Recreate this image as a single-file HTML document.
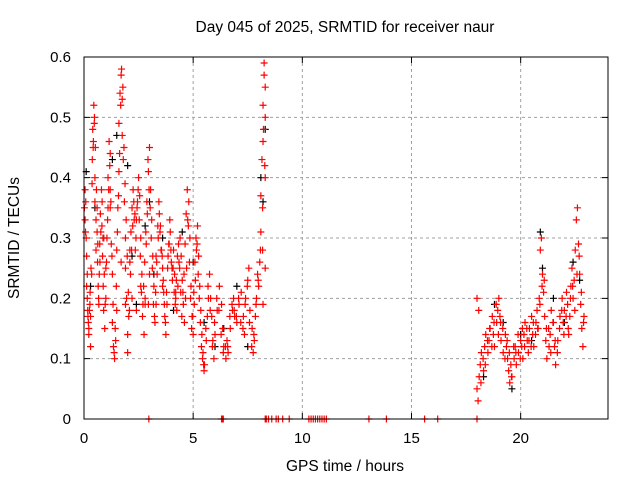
<!DOCTYPE html>
<html><head><meta charset="utf-8"><style>
body{margin:0;background:#fff}
svg{display:block;font-family:"Liberation Sans","DejaVu Sans",sans-serif}
</style></head><body>
<svg id="c" width="640" height="480">
<text x="345" y="32" font-size="15.5" text-anchor="middle">Day 045 of 2025, SRMTID for receiver naur</text>
<text x="0" y="0" font-size="15.5" text-anchor="middle" transform="translate(19,238) rotate(-90)">SRMTID / TECUs</text>
<text x="345" y="471" font-size="15.5" text-anchor="middle">GPS time / hours</text>
</svg>
<script>
const xTicks=[0,5,10,15,20];
const yTicks=[0,0.1,0.2,0.3,0.4,0.5,0.6];
const yTickLabels=["0","0.1","0.2","0.3","0.4","0.5","0.6"];
const redT=[0.05,0.05,0.08,0.1,0.12,0.15,0.15,0.18,0.2,0.22,0.25,0.28,0.3,0.3,0.35,0.38,0.4,0.42,0.45,0.48,0.5,0.5,0.55,0.55,0.6,0.62,0.65,0.68,0.7,0.72,0.75,0.8,0.82,0.85,0.88,0.9,0.95,1.0,1.0,
1.05,1.1,1.1,1.15,1.2,1.2,1.25,1.3,1.3,1.35,1.4,1.45,1.5,1.5,1.55,1.6,1.6,1.65,1.7,1.72,1.75,1.75,1.8,1.85,1.9,1.9,1.95,2.0,2.0,
2.05,2.1,2.15,2.2,2.25,2.3,2.35,2.4,2.45,2.5,2.55,2.6,2.65,2.7,2.75,2.8,2.85,2.9,2.95,3.0,3.05,3.1,3.15,3.2,3.25,3.3,3.35,3.4,3.45,3.5,3.55,3.6,3.65,3.7,3.75,3.8,3.85,3.9,3.95,4.0,4.05,
2.2,2.4,2.6,2.8,3.0,3.3,3.6,3.9,4.2,1.7,1.9,2.1,1.2,0.6,0.9,
4.1,4.15,4.2,4.25,4.3,4.35,4.4,4.45,4.5,4.55,4.6,4.65,4.7,4.75,4.8,4.85,4.9,4.95,5.0,5.05,5.1,5.15,5.2,5.25,5.3,5.35,5.4,5.45,
5.5,5.52,5.6,5.65,5.7,5.75,5.8,5.85,5.9,5.95,6.0,6.1,6.2,6.3,6.35,6.4,6.5,6.55,6.6,
6.7,6.8,6.85,6.9,7.0,7.1,7.2,7.3,7.35,7.4,7.5,7.55,7.6,7.7,7.75,7.8,7.85,7.9,7.95,8.0,8.05,8.1,8.1,8.15,8.2,8.2,8.25,8.25,8.3,8.3,8.3,8.3,8.2,
0.02,0.07,0.12,0.17,0.22,0.27,0.32,0.37,0.43,0.47,0.52,0.57,0.63,0.67,0.73,0.77,0.83,0.87,0.93,0.97,1.03,1.08,1.13,1.18,1.23,1.28,1.33,1.38,1.43,1.48,1.53,1.58,1.63,1.68,1.78,1.83,1.88,1.93,1.98,2.03,2.08,2.13,2.18,2.23,2.28,2.33,2.38,2.43,2.48,2.53,2.58,2.63,2.68,2.73,2.78,2.83,2.88,2.93,2.98,3.03,3.08,3.13,3.18,3.23,3.28,3.33,3.38,3.43,3.48,3.53,3.58,3.63,3.68,3.73,3.78,3.83,3.88,3.93,3.98,4.03,4.08,4.13,4.18,4.23,4.28,4.33,4.38,4.43,4.48,4.53,4.58,4.63,4.68,4.73,4.78,4.83,4.88,4.93,4.98,5.03,5.08,5.13,5.18,5.23,5.28,5.33,5.38,5.43,5.48,5.58,5.68,5.78,5.88,5.98,6.08,6.18,6.28,6.38,6.48,6.58,6.68,6.78,6.88,6.98,7.08,7.18,7.28,7.38,7.48,7.58,7.68,7.78,7.88,7.98,8.08,8.18,8.28,8.22,8.18,
18.0,18.0,18.05,18.1,18.15,18.2,18.3,18.35,18.4,18.5,18.55,18.6,18.7,18.75,18.8,18.9,18.95,19.0,19.05,19.1,19.2,19.3,19.35,19.4,19.45,19.5,19.55,19.6,19.7,19.75,19.8,19.9,20.0,20.05,20.1,20.15,20.2,20.3,20.35,20.4,20.5,20.55,20.6,20.7,20.75,20.8,20.85,20.9,20.95,21.0,21.05,21.1,21.15,21.2,21.3,21.35,21.4,21.5,21.55,21.6,21.7,21.8,21.9,21.95,22.0,22.1,22.15,22.2,22.25,22.3,22.35,22.4,22.45,22.5,22.55,22.6,22.65,22.7,22.75,22.8,22.85,22.9,
18.08,18.18,18.28,18.38,18.48,18.58,18.68,18.78,18.88,18.98,19.08,19.18,19.28,19.38,19.48,19.58,19.68,19.78,19.88,19.98,20.08,20.18,20.28,20.38,20.48,20.58,20.68,20.78,20.88,20.98,21.08,21.18,21.28,21.38,21.48,21.58,21.68,21.78,21.88,21.98,22.08,22.18,22.28,22.38,22.48,22.58,22.68,22.78,22.88,
2.95,2.97,6.3,6.32,6.35,6.38,8.3,8.35,8.45,8.6,8.8,8.9,9.1,9.4,10.3,10.4,10.5,10.6,10.7,10.8,10.9,11.0,11.1,13.05,13.85,15.6,16.2,18.0];
const redV=[0.38,0.33,0.36,0.30,0.27,0.24,0.20,0.17,0.16,0.15,0.18,0.21,0.17,0.12,0.24,0.43,0.48,0.45,0.52,0.50,0.40,0.36,0.33,0.28,0.31,0.26,0.22,0.19,0.24,0.29,0.34,0.38,0.32,0.27,0.22,0.18,0.15,0.20,0.25,
0.30,0.35,0.40,0.46,0.44,0.38,0.29,0.24,0.16,0.12,0.10,0.13,0.18,0.28,0.35,0.41,0.49,0.54,0.57,0.58,0.53,0.47,0.43,0.36,0.30,0.25,0.20,0.14,0.11,
0.17,0.26,0.31,0.35,0.38,0.33,0.28,0.33,0.36,0.40,0.37,0.30,0.24,0.19,0.14,0.20,0.29,0.34,0.41,0.45,0.38,0.33,0.27,0.22,0.16,0.19,0.24,0.30,0.34,0.32,0.28,0.25,0.21,0.17,0.14,0.19,0.27,0.29,0.31,0.26,0.23,
0.20,0.18,0.22,0.19,0.24,0.27,0.22,0.29,0.20,0.26,0.19,0.28,0.35,0.35,0.30,
0.28,0.24,0.21,0.18,0.22,0.26,0.30,0.27,0.23,0.19,0.16,0.20,0.25,0.33,0.36,0.30,0.22,0.17,0.14,0.19,0.23,0.28,0.32,0.27,0.22,0.18,0.14,0.11,
0.08,0.09,0.13,0.17,0.20,0.24,0.20,0.17,0.13,0.10,0.14,0.18,0.22,0.19,0.15,0.12,0.10,0.13,0.11,
0.15,0.18,0.20,0.17,0.16,0.19,0.21,0.17,0.14,0.20,0.23,0.25,0.18,0.15,0.11,0.13,0.17,0.20,0.24,0.22,0.26,0.31,0.37,0.43,0.46,0.52,0.57,0.59,0.55,0.50,0.40,0.25,0.19,
0.35,0.31,0.22,0.18,0.14,0.19,0.25,0.39,0.46,0.49,0.45,0.38,0.29,0.20,0.26,0.31,0.36,0.30,0.24,0.19,0.26,0.33,0.38,0.42,0.36,0.27,0.19,0.11,0.15,0.22,0.31,0.37,0.44,0.52,0.55,0.45,0.39,0.33,0.27,0.21,0.18,0.24,0.28,0.32,0.36,0.34,0.30,0.35,0.38,0.33,0.27,0.21,0.17,0.22,0.26,0.31,0.36,0.43,0.38,0.35,0.30,0.25,0.19,0.17,0.21,0.26,0.32,0.36,0.31,0.28,0.27,0.23,0.19,0.16,0.21,0.25,0.29,0.33,0.28,0.25,0.25,0.21,0.19,0.23,0.27,0.29,0.25,0.21,0.17,0.21,0.24,0.29,0.34,0.38,0.32,0.26,0.20,0.15,0.17,0.21,0.26,0.30,0.29,0.24,0.20,0.16,0.12,0.10,0.09,0.15,0.22,0.18,0.12,0.16,0.20,0.18,0.14,0.11,0.12,0.12,0.17,0.19,0.18,0.17,0.20,0.16,0.15,0.19,0.22,0.16,0.12,0.14,0.19,0.23,0.28,0.35,0.42,0.48,0.28,0.20,
0.05,0.03,0.07,0.09,0.11,0.08,0.12,0.14,0.11,0.13,0.15,0.17,0.14,0.12,0.16,0.18,0.20,0.17,0.13,0.11,0.14,0.12,0.10,0.08,0.06,0.09,0.07,0.10,0.12,0.09,0.11,0.13,0.12,0.10,0.14,0.16,0.13,0.11,0.15,0.17,0.14,0.12,0.16,0.18,0.15,0.20,0.28,0.30,0.24,0.21,0.17,0.13,0.10,0.12,0.14,0.18,0.16,0.12,0.09,0.13,0.17,0.20,0.16,0.18,0.21,0.19,0.14,0.17,0.22,0.25,0.20,0.23,0.28,0.33,0.35,0.29,0.24,0.19,0.15,0.12,0.17,0.18,
0.06,0.10,0.09,0.13,0.15,0.12,0.16,0.19,0.14,0.16,0.15,0.10,0.13,0.11,0.07,0.12,0.11,0.14,0.10,0.15,0.12,0.15,0.13,0.12,0.16,0.14,0.15,0.19,0.22,0.23,0.15,0.15,0.11,0.16,0.13,0.11,0.15,0.18,0.14,0.17,0.15,0.20,0.22,0.18,0.24,0.27,0.21,0.16,0.19,
0,0,0,0,0,0,0,0,0,0,0,0,0,0,0,0,0,0,0,0,0,0,0,0,0,0,0,0];
const blackT=[0.1,0.3,0.5,0.9,1.3,1.5,2.0,2.2,2.4,2.8,3.0,3.2,3.6,4.1,4.5,5.0,5.5,6.0,6.4,7.0,7.5,8.1,8.3,8.2,18.3,18.8,19.2,19.6,20.0,20.5,20.9,21.0,21.5,22.0,22.4,22.7];
const blackV=[0.41,0.22,0.35,0.30,0.43,0.47,0.42,0.27,0.19,0.32,0.36,0.24,0.30,0.18,0.31,0.26,0.16,0.12,0.15,0.22,0.12,0.40,0.48,0.36,0.07,0.19,0.16,0.05,0.14,0.13,0.31,0.25,0.20,0.16,0.26,0.23];
const svg=document.getElementById('c');
const NS='http://www.w3.org/2000/svg';
const L=84,R=608,T=57,B=419;
const xs=t=>L+(t/24)*(R-L);
const ys=v=>B-(v/0.6)*(B-T);
function mk(tag,a){const e=document.createElementNS(NS,tag);for(const k in a)e.setAttribute(k,a[k]);svg.appendChild(e);return e;}
xTicks.forEach(t=>{const x=xs(t);
 if(t>0){const g=mk('line',{x1:x,y1:T,x2:x,y2:B,stroke:'#a0a0a0','stroke-dasharray':'3,3'});
 
 }
 const tk=mk('path',{d:`M${x},${B}v-6M${x},${T}v6`,stroke:'#000'});
 
 
 const lb=mk('text',{x:x,y:B+24,'font-size':15,'text-anchor':'middle'});lb.textContent=t;
 
 });
yTicks.forEach((v,i)=>{const y=ys(v);
 if(v>0&&v<0.6){const g=mk('line',{x1:L,y1:y,x2:R,y2:y,stroke:'#a0a0a0','stroke-dasharray':'3,3'});
 
 }
 const tk=mk('path',{d:`M${L},${y}h6M${R},${y}h-6`,stroke:'#000'});
 
 
 const lb=mk('text',{x:L-13,y:y+5,'font-size':15,'text-anchor':'end'});lb.textContent=yTickLabels[i];
 
 });
function pts(T_,V_,col,name){let d='';T_.forEach((t,i)=>{const x=xs(t),y=ys(V_[i]);d+=`M${x-3.5},${y}h7M${x},${y-3.5}v7`;});
 const p=mk('path',{d:d,stroke:col,'stroke-width':1.2,fill:'none'});
 
 }
pts(blackT,blackV,'#000','black-series-points');
pts(redT,redV,'#ff0000','red-series-points');
const f=mk('rect',{x:L,y:T,width:R-L,height:B-T,fill:'none',stroke:'#000'});


</script>
</body></html>
